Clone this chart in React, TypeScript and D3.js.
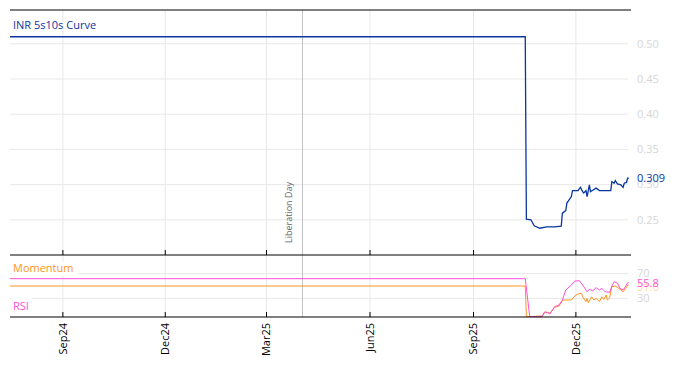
import React from "react";
import * as d3 from "d3";

const W = 674;
const H = 366;

const curveDates = [
  "2024-07-16", "2025-10-17", "2025-10-18", "2025-10-22", "2025-10-25", "2025-10-30",
  "2025-11-05", "2025-11-12", "2025-11-18", "2025-11-19", "2025-11-22", "2025-11-23",
  "2025-11-27", "2025-11-28", "2025-12-03", "2025-12-05", "2025-12-07", "2025-12-08",
  "2025-12-10", "2025-12-11", "2025-12-13", "2025-12-14", "2025-12-16", "2025-12-19",
  "2025-12-22", "2026-01-01", "2026-01-02", "2026-01-04", "2026-01-05", "2026-01-07",
  "2026-01-10", "2026-01-12", "2026-01-13", "2026-01-15", "2026-01-16", "2026-01-17",
];
const curveValues = [
  0.51, 0.51, 0.251, 0.25, 0.2415, 0.238,
  0.24, 0.24, 0.241, 0.2595, 0.263, 0.2737,
  0.283, 0.2915, 0.2915, 0.2963, 0.29, 0.288,
  0.2915, 0.283, 0.2996, 0.29, 0.292, 0.295,
  0.2915, 0.2915, 0.3043, 0.302, 0.3057, 0.301,
  0.2996, 0.296, 0.302, 0.303, 0.309, 0.309,
];

const rsiDates = [
  "2024-07-16", "2025-10-17", "2025-10-21", "2025-11-01", "2025-11-03", "2025-11-06",
  "2025-11-08", "2025-11-12", "2025-11-16", "2025-11-19", "2025-11-22", "2025-11-27",
  "2025-11-30", "2025-12-04", "2025-12-07", "2025-12-11", "2025-12-13", "2025-12-16",
  "2025-12-19", "2025-12-22", "2025-12-24", "2025-12-27", "2025-12-31", "2026-01-02",
  "2026-01-04", "2026-01-07", "2026-01-09", "2026-01-12", "2026-01-14", "2026-01-16",
  "2026-01-17",
];
const rsiValues = [
  61.8, 61.8, 0.5, 0.5, 8, 7,
  5, 16.6, 19.4, 27.4, 43.5, 51.6,
  58, 58.5, 51.6, 40.8, 44.7, 42.4,
  47.3, 43.5, 46.3, 40.8, 39.8, 50,
  57, 54.4, 46.3, 43.5, 48.9, 55.3,
  55.8,
];

const momDates = [
  "2024-07-16", "2025-10-17", "2025-10-18", "2025-11-01", "2025-11-04", "2025-11-08",
  "2025-11-12", "2025-11-16", "2025-11-19", "2025-11-20", "2025-11-27", "2025-11-30",
  "2025-12-03", "2025-12-06", "2025-12-07", "2025-12-10", "2025-12-11", "2025-12-12",
  "2025-12-15", "2025-12-17", "2025-12-19", "2025-12-22", "2025-12-24", "2025-12-26",
  "2025-12-28", "2025-12-29", "2025-12-31", "2026-01-02", "2026-01-05", "2026-01-08",
  "2026-01-12", "2026-01-15", "2026-01-16", "2026-01-17",
];
const momValues = [
  50, 50, 0.5, 1.6, 8.5, 5.9,
  15.6, 17.7, 26.3, 27.4, 27.4, 33.9,
  37.1, 38.2, 32.7, 24.7, 30.2, 23.1,
  32.7, 27.4, 30.2, 24.7, 32.7, 28.5,
  35.5, 27.4, 31, 48.9, 50, 46.3,
  40.8, 47.9, 51.6, 51.6,
];

const tickDates = ["2024-09-01", "2024-12-01", "2025-03-01", "2025-06-01", "2025-09-01", "2025-12-01"];
const tickLabels = ["Sep24", "Dec24", "Mar25", "Jun25", "Sep25", "Dec25"];

const curveTicks = [0.25, 0.3, 0.35, 0.4, 0.45, 0.5];
const oscTicks = [30, 70];

const eventDate = "2025-04-02";
const eventLabel = "Liberation Day";
const curveName = "INR 5s10s Curve";
const momName = "Momentum";
const rsiName = "RSI";

const parse = d3.utcParse("%Y-%m-%d");

const BLUE = "#0a36a0";
const PINK = "#ff4fd6";
const ORANGE = "#ff951c";
const GRID = "#e8e8e8";
const AXIS_TXT = "#d6d6d6";
const FONT = "'Open Sans', 'DejaVu Sans', sans-serif";

export default function App() {
  const left = 10, right = 631;
  const topY = 10, midY = 255, botY = 317;

  const x = d3.scaleUtc()
    .domain([parse("2024-07-16")!, parse("2026-01-19")!])
    .range([left, right]);
  const yTop = d3.scaleLinear().domain([0.2, 0.548]).range([midY, topY]);
  const yBot = d3.scaleLinear().domain([0, 100]).range([botY, midY]);

  const curve = curveDates.map((d, i) => ({ d: parse(d)!, v: curveValues[i] }));
  const rsi = rsiDates.map((d, i) => ({ d: parse(d)!, v: rsiValues[i] }));
  const mom = momDates.map((d, i) => ({ d: parse(d)!, v: momValues[i] }));

  const lineTop = d3.line<{ d: Date; v: number }>().x(p => x(p.d)).y(p => yTop(p.v));
  const lineBot = d3.line<{ d: Date; v: number }>().x(p => x(p.d)).y(p => yBot(p.v));

  const ticks = tickDates.map(d => x(parse(d)!));
  const ex = x(parse(eventDate)!);
  const lastC = curve[curve.length - 1];
  const lastR = rsi[rsi.length - 1];
  const lastM = mom[mom.length - 1];

  return (
    <svg width={W} height={H} style={{ position: "absolute", left: 0, top: 0, fontFamily: FONT }}>
      <rect x={0} y={0} width={W} height={H} fill="#fff" />
      {/* vertical grid */}
      {ticks.map((tx, i) => (
        <line key={"vg" + i} x1={tx} x2={tx} y1={topY} y2={botY} stroke={GRID} strokeWidth={1} />
      ))}
      {/* top horizontal grid */}
      {curveTicks.map((t, i) => (
        <g key={"hg" + i}>
          <line x1={left} x2={right - 3} y1={yTop(t)} y2={yTop(t)} stroke={GRID} strokeWidth={1} />
          <text x={637} y={yTop(t)} dy="0.35em" fontSize={11} fill={AXIS_TXT}>{d3.format(".2f")(t)}</text>
        </g>
      ))}
      {oscTicks.map((t, i) => (
        <g key={"og" + i}>
          <line x1={left} x2={right - 3} y1={yBot(t)} y2={yBot(t)} stroke={GRID} strokeWidth={1} />
          <text x={637} y={yBot(t)} dy="0.35em" fontSize={11} fill={AXIS_TXT}>{t}</text>
        </g>
      ))}
      {/* event line */}
      <line x1={ex} x2={ex} y1={topY} y2={botY} stroke="#c2c2c6" strokeWidth={1} />
      <text transform={`translate(${ex - 14},${243}) rotate(-90)`} fontSize={9} fill="#666" textAnchor="start" dy="0.35em">{eventLabel}</text>

      {/* lines */}
      <path d={lineTop(curve)!} fill="none" stroke={BLUE} strokeWidth={1.3} />
      <path d={lineBot(mom)!} fill="none" stroke={ORANGE} strokeWidth={1} />
      <path d={lineBot(rsi)!} fill="none" stroke={PINK} strokeWidth={1} />

      {/* panel labels */}
      <text x={13} y={25} dy="0.35em" fontSize={11} fill={BLUE}>{curveName}</text>
      <rect x={11} y={261} width={67} height={15} fill="#fff" />
      <text x={13} y={268} dy="0.35em" fontSize={11} fill={ORANGE}>{momName}</text>
      <rect x={11} y={298} width={21} height={15} fill="#fff" />
      <text x={13} y={306} dy="0.35em" fontSize={11} fill={PINK}>{rsiName}</text>

      {/* last value labels */}
      <text x={637} y={yTop(lastC.v)} dy="0.35em" fontSize={11} fill={BLUE}>{d3.format(".3f")(lastC.v)}</text>
      <text x={637} y={yBot(lastM.v) + 2} dy="0.35em" fontSize={11} fill={ORANGE} opacity={0.35}>{d3.format(".1f")(lastM.v)}</text>
      <text x={637} y={yBot(lastR.v) + 1} dy="0.35em" fontSize={11} fill={PINK}>{d3.format(".1f")(lastR.v)}</text>

      {/* frame lines */}
      <line x1={left} x2={right} y1={topY} y2={topY} stroke="#000" strokeWidth={1} />
      <line x1={left} x2={right} y1={midY} y2={midY} stroke="#000" strokeWidth={1} />
      <line x1={left} x2={right} y1={botY} y2={botY} stroke="#000" strokeWidth={1} />
      {ticks.map((tx, i) => (
        <g key={"tk" + i}>
          <line x1={tx} x2={tx} y1={midY - 5} y2={midY} stroke="#000" strokeWidth={1} />
          <line x1={tx} x2={tx} y1={botY - 5} y2={botY} stroke="#000" strokeWidth={1} />
          <text transform={`translate(${tx},${323}) rotate(-90)`} textAnchor="end" dy="0.35em" fontSize={11} fill="#000">{tickLabels[i]}</text>
        </g>
      ))}
    </svg>
  );
}
